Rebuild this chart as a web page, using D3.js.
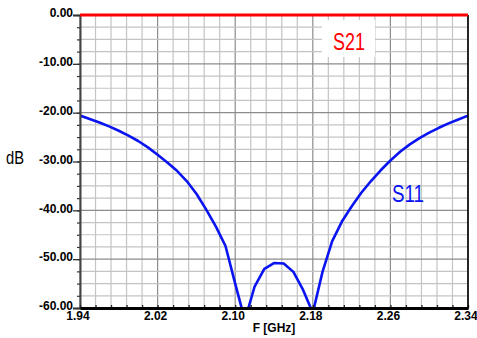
<!DOCTYPE html>
<html>
<head>
<meta charset="utf-8">
<script src="https://cdn.jsdelivr.net/npm/d3@7"></script>
<style>
  html, body { margin: 0; padding: 0; background: #fff; }
  svg { display: block; font-family: "Liberation Sans", Arial, sans-serif; }
</style>
</head>
<body>
<svg id="chart" width="477" height="338"></svg>
<script>
// Frequency sweep (GHz)
const freqs = [1.94, 1.95, 1.96, 1.97, 1.98, 1.99, 2.00, 2.01, 2.02, 2.03,
               2.04, 2.05, 2.06, 2.07, 2.08, 2.09, 2.10, 2.11, 2.12, 2.13,
               2.14, 2.15, 2.16, 2.17, 2.18, 2.19, 2.20, 2.21, 2.22, 2.23,
               2.24, 2.25, 2.26, 2.27, 2.28, 2.29, 2.30, 2.31, 2.32, 2.33, 2.34];

// Return loss S11 (dB)
const s11 = [-20.6, -21.3, -22.0, -22.8, -23.7, -24.7, -25.8, -27.1, -28.6, -30.2,
             -31.9, -34.0, -36.6, -39.8, -43.3, -47.3, -55.0, -62.5, -55.6, -52.0,
             -50.8, -50.9, -52.6, -56.3, -61.0, -52.6, -46.3, -42.3, -39.2, -36.4,
             -34.0, -31.8, -29.8, -28.0, -26.5, -25.2, -24.1, -23.1, -22.2, -21.4, -20.6];

// Insertion loss S21 (dB)
const s21 = [0, 0, 0, 0, 0, 0, 0, 0, 0, 0,
             0, 0, 0, 0, 0, 0, 0, 0, 0, 0,
             0, 0, 0, 0, 0, 0, 0, 0, 0, 0,
             0, 0, 0, 0, 0, 0, 0, 0, 0, 0, 0];

const xTicks = [1.94, 2.02, 2.10, 2.18, 2.26, 2.34];
const yTicks = [0, -10, -20, -30, -40, -50, -60];
const xMinorStep = 0.016;
const yMinorStep = 2.5;

const svg = d3.select("#chart");
const L = 80, R = 468, T = 15, B = 308;

const x = d3.scaleLinear().domain([1.94, 2.34]).range([L, R]);
const y = d3.scaleLinear().domain([-60, 0]).range([B, T]);

const xMinor = d3.range(0, 26).map(i => +(1.94 + i * xMinorStep).toFixed(3));
const yMinor = d3.range(0, 25).map(i => -i * yMinorStep);

// Grid
const grid = svg.append("g");
grid.selectAll("line.vx").data(xMinor).join("line")
  .attr("x1", d => x(d)).attr("x2", d => x(d)).attr("y1", T).attr("y2", B)
  .attr("stroke", d => xTicks.some(t => Math.abs(t - d) < 1e-6) ? "#8c8c8c" : "#c4c4c4")
  .attr("stroke-width", 1.2);
grid.selectAll("line.hy").data(yMinor).join("line")
  .attr("x1", L).attr("x2", R).attr("y1", d => y(d)).attr("y2", d => y(d))
  .attr("stroke", d => d % 10 === 0 ? "#8c8c8c" : "#c4c4c4")
  .attr("stroke-width", 1.2);

// Label box behind S21
svg.append("rect").attr("x", 322).attr("y", 20).attr("width", 53).attr("height", 37).attr("fill", "#fff");

// Clip for curves
svg.append("clipPath").attr("id", "plotclip").append("rect")
  .attr("x", L).attr("y", T - 3).attr("width", R - L + 2).attr("height", B - T + 3);

const line = d3.line().x((d, i) => x(freqs[i])).y(d => y(d));

svg.append("path").datum(s11)
  .attr("clip-path", "url(#plotclip)")
  .attr("fill", "none").attr("stroke", "#0a14f0").attr("stroke-width", 2.6)
  .attr("stroke-linejoin", "round")
  .attr("d", line);

// Axes
const fmt = d => d.toFixed(2);

const yAxisMinor = d3.axisLeft(y).tickValues(yMinor).tickSize(3).tickFormat("");
const gyMinor = svg.append("g").attr("transform", `translate(${L},0)`).call(yAxisMinor);
gyMinor.select(".domain").remove();
gyMinor.selectAll(".tick line").attr("stroke", "#333").attr("stroke-width", 1.2);

const yAxis = d3.axisLeft(y).tickValues(yTicks).tickSize(7).tickFormat(fmt);
const gy = svg.append("g").attr("transform", `translate(${L},0)`).call(yAxis);
gy.select(".domain").attr("stroke", "#444").attr("stroke-width", 2);
gy.selectAll(".tick line").attr("stroke", "#333").attr("stroke-width", 1.3);
gy.selectAll(".tick text")
  .attr("x", -7).attr("dy", "0.15em")
  .attr("fill", "#000").attr("font-size", 12).attr("font-weight", "bold")
  .attr("font-family", "Liberation Sans, Arial, sans-serif");

const xAxisMinor = d3.axisBottom(x).tickValues(xMinor).tickSize(-3).tickFormat("");
const gxMinor = svg.append("g").attr("transform", `translate(0,${B})`).call(xAxisMinor);
gxMinor.select(".domain").remove();
gxMinor.selectAll(".tick line").attr("stroke", "#222").attr("stroke-width", 1.3);

const xAxis = d3.axisBottom(x).tickValues(xTicks).tickSize(0).tickPadding(3).tickFormat(fmt);
const gx = svg.append("g").attr("transform", `translate(0,${B})`).call(xAxis);
gx.select(".domain").attr("stroke", "#000").attr("stroke-width", 3);
gx.selectAll(".tick text")
  .attr("dx", -2.5)
  .attr("fill", "#000").attr("font-size", 12).attr("font-weight", "bold")
  .attr("font-family", "Liberation Sans, Arial, sans-serif");

// Right border
svg.append("line").attr("x1", R).attr("x2", R).attr("y1", T).attr("y2", B + 1)
  .attr("stroke", "#000").attr("stroke-width", 1.6);

// S21 trace on top
svg.append("path").datum(s21)
  .attr("fill", "none").attr("stroke", "#ff0000").attr("stroke-width", 3)
  .attr("d", line);

// Titles
svg.append("text").attr("x", 274).attr("y", 332).attr("text-anchor", "middle")
  .attr("font-size", 12).attr("font-weight", "bold").text("F [GHz]");

svg.append("text").attr("x", 6).attr("y", 164)
  .attr("font-size", 18).attr("textLength", 18).attr("lengthAdjust", "spacingAndGlyphs")
  .attr("fill", "#000").text("dB");

svg.append("text").attr("x", 333).attr("y", 50)
  .attr("font-size", 23).attr("textLength", 32).attr("lengthAdjust", "spacingAndGlyphs")
  .attr("fill", "#ff0000").text("S21");

svg.append("text").attr("x", 392).attr("y", 202)
  .attr("font-size", 23).attr("textLength", 32).attr("lengthAdjust", "spacingAndGlyphs")
  .attr("fill", "#0a14f0").text("S11");
</script>
</body>
</html>
